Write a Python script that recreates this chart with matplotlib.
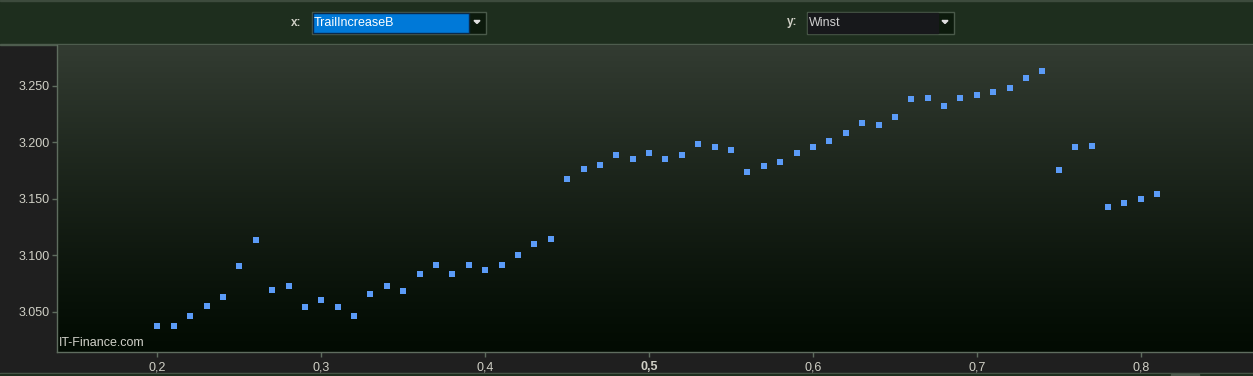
import numpy as np
import matplotlib
matplotlib.use("Agg")
import matplotlib.pyplot as plt
from matplotlib.patches import Rectangle, Polygon
from matplotlib.ticker import FuncFormatter

# data: TrailIncreaseB (x) vs Winst (y)
trail = [0.20, 0.21, 0.22, 0.23, 0.24, 0.25, 0.26, 0.27, 0.28, 0.29,
         0.30, 0.31, 0.32, 0.33, 0.34, 0.35, 0.36, 0.37, 0.38, 0.39,
         0.40, 0.41, 0.42, 0.43, 0.44, 0.45, 0.46, 0.47, 0.48, 0.49,
         0.50, 0.51, 0.52, 0.53, 0.54, 0.55, 0.56, 0.57, 0.58, 0.59,
         0.60, 0.61, 0.62, 0.63, 0.64, 0.65, 0.66, 0.67, 0.68, 0.69,
         0.70, 0.71, 0.72, 0.73, 0.74, 0.75, 0.76, 0.77, 0.78, 0.79,
         0.80, 0.81]
winst = [3037, 3037, 3046, 3055, 3063, 3090, 3113, 3069, 3073, 3054,
         3060, 3054, 3046, 3066, 3073, 3068, 3083, 3091, 3083, 3091,
         3087, 3091, 3100, 3110, 3114, 3167, 3176, 3180, 3189, 3185,
         3190, 3185, 3189, 3198, 3196, 3193, 3174, 3179, 3182, 3190,
         3196, 3201, 3208, 3217, 3215, 3222, 3238, 3239, 3232, 3239,
         3242, 3244, 3248, 3257, 3263, 3175, 3196, 3197, 3143, 3146,
         3150, 3154]
x_ticks = [0.2, 0.3, 0.4, 0.5, 0.6, 0.7, 0.8]
y_ticks = [3050, 3100, 3150, 3200, 3250]

W, H = 1253, 376
fig = plt.figure(figsize=(W / 100, H / 100), dpi=100, facecolor='#1f1f1f')
plt.rcParams['font.family'] = ['Liberation Sans', 'DejaVu Sans']

# background layer in pixel coordinates (toolbar, frame)
bg = fig.add_axes([0, 0, 1, 1])
bg.set_xlim(0, W)
bg.set_ylim(H, 0)
bg.axis('off')
bg.add_patch(Rectangle((0, 0), W, 44, color='#1e2e1e'))
bg.add_patch(Rectangle((0, 0), W, 1.2, color='#3d4b3d'))
bg.add_patch(Rectangle((0, 43.5), W, 1.5, color='#4e5d4e'))
bg.add_patch(Rectangle((0, 372.5), W, 1.2, color='#4e5d4e'))
bg.add_patch(Rectangle((0, 373.7), W, 3, color='#1e2e1e'))
bg.add_patch(Rectangle((1171, 373.7), 28, 3, color='#4a574a'))

lbl_col = '#d0d0c6'
# x combobox
bg.text(301, 22.5, 'x:', color=lbl_col, fontsize=8.5, fontweight='bold', ha='right', va='center')
bg.add_patch(Rectangle((311.5, 11.5), 174, 22, facecolor='#0c1a0c', edgecolor='#4a5a4a', lw=1))
bg.add_patch(Rectangle((312.5, 12.5), 156, 20, facecolor='#0079d8', edgecolor='#0b2a4a', lw=1))
bg.add_patch(Polygon([(474, 20.5), (480, 20.5), (477, 23.5)], color='#e0e0e0'))
bg.text(314, 22.5, 'TrailIncreaseB', color='white', fontsize=9, ha='left', va='center')
# y combobox
bg.text(797, 22.5, 'y:', color=lbl_col, fontsize=8.5, fontweight='bold', ha='right', va='center')
bg.add_patch(Rectangle((806.5, 11.5), 147, 22, facecolor='#0c1a0c', edgecolor='#4a5a4a', lw=1))
bg.add_patch(Rectangle((807.5, 12.5), 130, 20, facecolor='#17181b', edgecolor='#17181b', lw=1))
bg.add_patch(Polygon([(942, 20.5), (948, 20.5), (945, 23.5)], color='#e0e0e0'))
bg.text(809, 22.5, 'Winst', color='#d0d0d0', fontsize=9, ha='left', va='center')

# main plot area
left, top, bottom = 57.3, 44.5, 352
ax = fig.add_axes([left / W, 1 - bottom / H, 1 - left / W, (bottom - top) / H])
ax.set_facecolor('#020b02')
grad = np.linspace(0, 1, 256).reshape(-1, 1)
top_c = np.array([0x33, 0x3c, 0x32]) / 255
bot_c = np.array([0x02, 0x0b, 0x02]) / 255
img = bot_c[None, None, :] + (top_c - bot_c)[None, None, :] * grad[:, :, None] ** 1.15
ax.imshow(img, extent=(0, 1, 0, 1), transform=ax.transAxes, aspect='auto',
          origin='lower', zorder=0)

ax.scatter(trail, winst, marker='s', s=14, color='#5b9bf7', linewidths=0, zorder=3)

ax.set_xlim(0.1389, 0.8685)
ax.set_ylim(3014.3, 3286.4)
ax.set_xticks(x_ticks)
ax.set_yticks(y_ticks)
ax.xaxis.set_major_formatter(FuncFormatter(lambda v, p: f"{v:.1f}".replace('.', ',')))
ax.yaxis.set_major_formatter(FuncFormatter(lambda v, p: f"{int(round(v)):,}".replace(',', '.')))
ax.tick_params(colors='#5f6d5f', labelcolor=lbl_col, labelsize=9, length=3.5, width=1,
               direction='out')
ax.tick_params(axis='x', pad=3)
ax.tick_params(axis='y', pad=2)
for lab in ax.get_xticklabels():
    if lab.get_text() == '0,5':
        lab.set_fontweight('bold')

for s in ['top', 'right']:
    ax.spines[s].set_visible(False)
for s in ['left', 'bottom']:
    ax.spines[s].set_color('#5f6d5f')
    ax.spines[s].set_linewidth(1)

ax.text(0.0012, 0.01, 'IT-Finance.com', transform=ax.transAxes, color='#d0d0c8',
        fontsize=9, ha='left', va='bottom', zorder=4)

fig.savefig('out.png', dpi=100, facecolor=fig.get_facecolor())
